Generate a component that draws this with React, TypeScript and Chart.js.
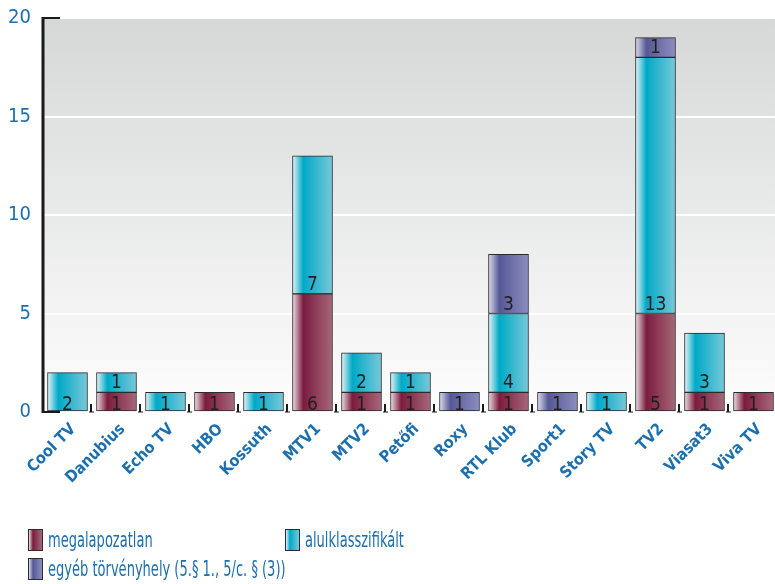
import React, { useEffect, useRef } from "react";
import { Chart, registerables } from "chart.js";

Chart.register(...registerables);

const categories = ["Cool TV", "Danubius", "Echo TV", "HBO", "Kossuth", "MTV1", "MTV2", "Petőfi", "Roxy", "RTL Klub", "Sport1", "Story TV", "TV2", "Viasat3", "Viva TV"];
const megalapozatlan = [0, 1, 0, 1, 0, 6, 1, 1, 0, 1, 0, 0, 5, 1, 1];
const alulklasszifikalt = [2, 1, 1, 0, 1, 7, 2, 1, 0, 4, 0, 1, 13, 3, 0];
const egyeb = [0, 0, 0, 0, 0, 0, 0, 0, 1, 3, 1, 0, 1, 0, 0];
const seriesNames = ["megalapozatlan", "alulklasszifikált", "egyéb törvényhely (5.§ 1., 5/c. § (3))"];
const yTicks = [0, 5, 10, 15, 20];

const BLUE = "#1b6fae";
const FONT = "'Liberation Sans Narrow', 'DejaVu Sans Condensed', Lato, sans-serif";

const gradStops: string[][] = [
  ["#eedde2", "#7a1c3e", "#a6687a"],
  ["#e2f5f8", "#00a9c7", "#78c8d8"],
  ["#dcdcee", "#565896", "#8c8ebe"],
];

function barGradient(idx: number) {
  return (ctx: any) => {
    const chart = ctx.chart;
    const xs = chart.scales && chart.scales.x;
    if (!xs || ctx.dataIndex === undefined || !chart.chartArea) return gradStops[idx][1];
    const cx = xs.getPixelForValue(ctx.dataIndex);
    const g = chart.ctx.createLinearGradient(cx - 20, 0, cx + 20, 0);
    g.addColorStop(0, gradStops[idx][0]);
    g.addColorStop(0.27, gradStops[idx][1]);
    g.addColorStop(1, gradStops[idx][2]);
    return g;
  };
}

const decorPlugin = {
  id: "decor",
  beforeDraw(chart: any) {
    const { ctx, chartArea: a } = chart;
    const g = ctx.createLinearGradient(0, a.top, 0, a.bottom);
    g.addColorStop(0, "#d6d7d7");
    g.addColorStop(1, "#fdfdfd");
    ctx.save();
    ctx.fillStyle = g;
    ctx.fillRect(a.left, a.top, a.right - a.left, a.bottom - a.top);
    ctx.restore();
  },
  afterDatasetsDraw(chart: any) {
    const { ctx } = chart;
    ctx.save();
    ctx.fillStyle = "#231f20";
    ctx.font = "19px " + FONT;
    ctx.textAlign = "center";
    ctx.textBaseline = "alphabetic";
    chart.data.datasets.forEach((ds: any, di: number) => {
      const meta = chart.getDatasetMeta(di);
      meta.data.forEach((el: any, i: number) => {
        const v = ds.data[i];
        if (!v) return;
        const bottom = Math.max(el.base, el.y);
        const y = bottom >= chart.chartArea.bottom - 1 ? bottom - 1 : bottom - 4;
        ctx.fillText(String(v), el.x, y);
      });
    });
    ctx.restore();
  },
  afterDraw(chart: any) {
    const { ctx, chartArea: a } = chart;
    const xs = chart.scales.x;
    ctx.save();
    ctx.strokeStyle = "#1a1a1a";
    ctx.lineWidth = 3;
    ctx.beginPath();
    ctx.moveTo(a.left, a.top - 1);
    ctx.lineTo(a.left, a.bottom + 1);
    ctx.stroke();
    ctx.lineWidth = 2;
    ctx.beginPath();
    ctx.moveTo(a.left, a.top);
    ctx.lineTo(a.left + 17, a.top);
    ctx.moveTo(a.left, a.bottom);
    ctx.lineTo(a.left + 17, a.bottom);
    ctx.stroke();
    for (let i = 1; i < categories.length; i++) {
      const bx = (xs.getPixelForValue(i - 1) + xs.getPixelForValue(i)) / 2;
      ctx.lineWidth = 2;
      ctx.beginPath();
      ctx.moveTo(bx - 1, a.bottom - 8);
      ctx.lineTo(bx - 1, a.bottom);
      ctx.stroke();
      ctx.lineWidth = 1;
      ctx.beginPath();
      ctx.moveTo(bx - 3, a.bottom);
      ctx.lineTo(bx + 2, a.bottom);
      ctx.stroke();
    }
    ctx.restore();
  },
};

export default function App() {
  const ref = useRef<HTMLCanvasElement>(null);
  useEffect(() => {
    if (!ref.current) return;
    const mk = (label: string, data: number[], idx: number) => ({
      label,
      data,
      backgroundColor: barGradient(idx),
      borderColor: "#2b2b2b",
      borderWidth: 1,
      borderSkipped: false,
      barThickness: 40,
    });
    const chart = new Chart(ref.current, {
      type: "bar",
      data: {
        labels: categories,
        datasets: [
          mk(seriesNames[0], megalapozatlan, 0),
          mk(seriesNames[1], alulklasszifikalt, 1),
          mk(seriesNames[2], egyeb, 2),
        ],
      },
      options: {
        animation: false,
        responsive: false,
        layout: { padding: { top: 18, right: 0, left: 0, bottom: 0 } },
        plugins: { legend: { display: false }, tooltip: { enabled: false } },
        scales: {
          x: {
            stacked: true,
            offset: true,
            grid: { display: false },
            border: { display: false },
            ticks: {
              color: BLUE,
              font: { family: FONT, size: 16, weight: "bold" },
              maxRotation: 45,
              minRotation: 45,
              padding: 0,
              labelOffset: 6,
              autoSkip: false,
            },
            afterFit: (s: any) => { s.height = 172; s.paddingRight = 0; },
          },
          y: {
            stacked: true,
            min: 0,
            max: 20,
            afterBuildTicks: (s: any) => { s.ticks = yTicks.map((v) => ({ value: v })); },
            grid: { color: "#ffffff", lineWidth: 2, drawTicks: false },
            border: { display: false },
            ticks: {
              color: BLUE,
              font: { family: FONT, size: 20 },
              padding: 12,
            },
            afterFit: (s: any) => { s.width = 43; s.paddingTop = 0; },
          },
        },
      },
      plugins: [decorPlugin],
    });
    return () => chart.destroy();
  }, []);

  const box = (idx: number): React.CSSProperties => ({
    position: "absolute",
    width: 13,
    height: 20,
    border: "1.5px solid #2b2b2b",
    background: `linear-gradient(to right, ${gradStops[idx][0]} 0%, ${gradStops[idx][1]} 30%, ${gradStops[idx][2]} 100%)`,
  });
  const txt: React.CSSProperties = {
    position: "absolute",
    fontFamily: FONT,
    fontSize: 21,
    color: BLUE,
    lineHeight: "24px",
    whiteSpace: "nowrap",
    transform: "scaleX(0.69)",
    transformOrigin: "left center",
  };

  return (
    <div style={{ position: "fixed", left: 0, top: 0, width: 775, height: 584, background: "#fff", overflow: "hidden" }}>
      <canvas ref={ref} width={778} height={584} style={{ position: "absolute", left: 0, top: 0 }} />
      <div style={{ ...box(0), left: 28, top: 529 }} />
      <div style={{ ...txt, left: 48, top: 528 }}>{seriesNames[0]}</div>
      <div style={{ ...box(1), left: 285, top: 529 }} />
      <div style={{ ...txt, left: 305, top: 528 }}>{seriesNames[1]}</div>
      <div style={{ ...box(2), left: 28, top: 558 }} />
      <div style={{ ...txt, left: 48, top: 557 }}>{seriesNames[2]}</div>
    </div>
  );
}
